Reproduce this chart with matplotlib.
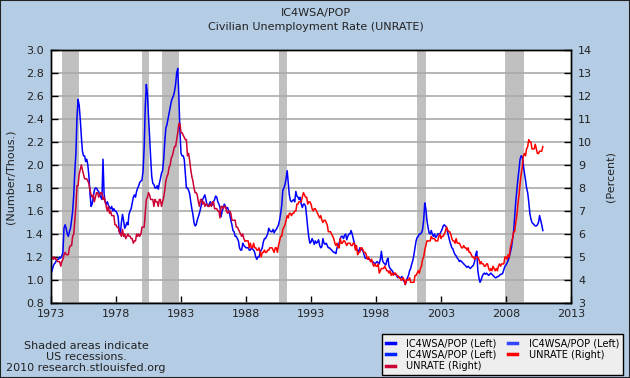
import numpy as np
import matplotlib
matplotlib.use("Agg")
import matplotlib.pyplot as plt
from matplotlib.lines import Line2D

# monthly values, Jan 1973 .. Nov 2010
ic4wsa_pop = [
    1.06, 1.08, 1.12, 1.14, 1.15, 1.17, 1.18, 1.18, 1.20, 1.19, 1.21, 1.24,  # 1973
    1.45, 1.48, 1.45, 1.40, 1.38, 1.42, 1.45, 1.52, 1.60, 1.74, 1.95, 2.10,  # 1974
    2.42, 2.57, 2.52, 2.40, 2.25, 2.12, 2.08, 2.08, 2.03, 2.05, 2.00, 1.90,  # 1975
    1.75, 1.64, 1.66, 1.72, 1.78, 1.80, 1.80, 1.78, 1.77, 1.74, 1.72, 1.70,  # 1976
    2.05, 1.75, 1.68, 1.66, 1.68, 1.65, 1.63, 1.62, 1.64, 1.60, 1.62, 1.60,  # 1977
    1.60, 1.58, 1.55, 1.42, 1.40, 1.50, 1.57, 1.52, 1.45, 1.47, 1.50, 1.48,  # 1978
    1.57, 1.60, 1.62, 1.67, 1.72, 1.74, 1.72, 1.77, 1.80, 1.82, 1.85, 1.86,  # 1979
    1.87, 1.95, 2.15, 2.50, 2.70, 2.62, 2.42, 2.25, 2.06, 1.90, 1.84, 1.83,  # 1980
    1.80, 1.80, 1.82, 1.79, 1.84, 1.88, 1.93, 1.95, 2.05, 2.20, 2.32, 2.35,  # 1981
    2.40, 2.45, 2.50, 2.55, 2.58, 2.60, 2.64, 2.70, 2.80, 2.84, 2.60, 2.30,  # 1982
    2.10, 2.08, 2.08, 2.05, 1.92, 1.80, 1.80, 1.78, 1.75, 1.68, 1.62, 1.57,  # 1983
    1.50, 1.47, 1.48, 1.52, 1.55, 1.58, 1.62, 1.66, 1.70, 1.72, 1.74, 1.70,  # 1984
    1.65, 1.64, 1.66, 1.68, 1.66, 1.65, 1.68, 1.70, 1.73, 1.72, 1.68, 1.66,  # 1985
    1.63, 1.55, 1.60, 1.63, 1.66, 1.64, 1.62, 1.63, 1.60, 1.57, 1.52, 1.48,  # 1986
    1.43, 1.42, 1.38, 1.38, 1.36, 1.34, 1.28, 1.26, 1.26, 1.32, 1.30, 1.29,  # 1987
    1.28, 1.28, 1.28, 1.26, 1.26, 1.28, 1.27, 1.26, 1.24, 1.20, 1.18, 1.20,  # 1988
    1.20, 1.24, 1.26, 1.28, 1.33, 1.36, 1.36, 1.38, 1.40, 1.45, 1.43, 1.42,  # 1989
    1.42, 1.44, 1.41, 1.43, 1.44, 1.46, 1.48, 1.52, 1.58, 1.65, 1.78, 1.80,  # 1990
    1.83, 1.88, 1.95, 1.85, 1.74, 1.69, 1.68, 1.69, 1.70, 1.68, 1.77, 1.73,  # 1991
    1.72, 1.70, 1.72, 1.66, 1.63, 1.66, 1.66, 1.64, 1.55, 1.45, 1.37, 1.32,  # 1992
    1.33, 1.36, 1.34, 1.31, 1.34, 1.32, 1.33, 1.35, 1.30, 1.28, 1.29, 1.36,  # 1993
    1.32, 1.31, 1.32, 1.30, 1.28, 1.28, 1.27, 1.26, 1.25, 1.24, 1.24, 1.23,  # 1994
    1.28, 1.30, 1.32, 1.36, 1.38, 1.38, 1.36, 1.39, 1.40, 1.35, 1.38, 1.40,  # 1995
    1.40, 1.43, 1.40, 1.36, 1.32, 1.28, 1.27, 1.26, 1.24, 1.28, 1.26, 1.27,  # 1996
    1.25, 1.22, 1.19, 1.19, 1.19, 1.18, 1.18, 1.17, 1.16, 1.16, 1.15, 1.14,  # 1997
    1.15, 1.16, 1.15, 1.14, 1.18, 1.25, 1.17, 1.15, 1.14, 1.13, 1.17, 1.19,  # 1998
    1.12, 1.10, 1.09, 1.08, 1.06, 1.05, 1.05, 1.04, 1.02, 1.03, 1.02, 1.02,  # 1999
    1.03, 1.00, 0.99, 0.96, 0.99, 1.02, 1.04, 1.08, 1.10, 1.14, 1.17, 1.22,  # 2000
    1.28, 1.34, 1.37, 1.38, 1.40, 1.40, 1.41, 1.44, 1.52, 1.67, 1.62, 1.52,  # 2001
    1.46, 1.41, 1.40, 1.43, 1.40, 1.38, 1.40, 1.37, 1.38, 1.40, 1.40, 1.40,  # 2002
    1.42, 1.44, 1.47, 1.48, 1.47, 1.46, 1.42, 1.38, 1.34, 1.31, 1.28, 1.27,  # 2003
    1.24, 1.22, 1.21, 1.19, 1.18, 1.16, 1.17, 1.16, 1.15, 1.14, 1.13, 1.12,  # 2004
    1.11, 1.12, 1.11, 1.10, 1.11, 1.12, 1.13, 1.16, 1.22, 1.25, 1.08, 1.02,  # 2005
    0.98, 1.00, 1.03, 1.05, 1.06, 1.05, 1.06, 1.05, 1.04, 1.05, 1.06, 1.05,  # 2006
    1.04, 1.03, 1.02, 1.02, 1.03, 1.03, 1.04, 1.05, 1.05, 1.06, 1.09, 1.12,  # 2007
    1.13, 1.15, 1.17, 1.20, 1.24, 1.28, 1.35, 1.42, 1.55, 1.68, 1.78, 1.88,  # 2008
    1.96, 2.05, 2.08, 2.07, 2.00, 1.93, 1.87, 1.80, 1.76, 1.68, 1.58, 1.53,  # 2009
    1.50, 1.49, 1.48, 1.47, 1.47, 1.48, 1.50, 1.56, 1.52, 1.48, 1.43,        # 2010
]

unrate = [
    4.9, 5.0, 4.9, 5.0, 4.9, 4.9, 4.8, 4.8, 4.8, 4.6, 4.8, 4.9,  # 1973
    5.1, 5.2, 5.1, 5.1, 5.1, 5.4, 5.5, 5.5, 5.9, 6.0, 6.6, 7.2,  # 1974
    8.1, 8.1, 8.6, 8.8, 9.0, 8.8, 8.6, 8.4, 8.4, 8.4, 8.3, 8.2,  # 1975
    7.9, 7.7, 7.6, 7.7, 7.4, 7.6, 7.8, 7.8, 7.6, 7.7, 7.8, 7.8,  # 1976
    7.5, 7.6, 7.4, 7.2, 7.0, 7.2, 6.9, 7.0, 6.8, 6.8, 6.8, 6.4,  # 1977
    6.4, 6.3, 6.3, 6.1, 6.0, 5.9, 6.2, 5.9, 6.0, 5.8, 5.9, 6.0,  # 1978
    5.9, 5.9, 5.8, 5.8, 5.6, 5.7, 5.7, 6.0, 5.9, 6.0, 5.9, 6.0,  # 1979
    6.3, 6.3, 6.3, 6.9, 7.5, 7.6, 7.8, 7.7, 7.5, 7.5, 7.5, 7.2,  # 1980
    7.5, 7.4, 7.4, 7.2, 7.5, 7.5, 7.2, 7.4, 7.6, 7.9, 8.3, 8.5,  # 1981
    8.6, 8.9, 9.0, 9.3, 9.4, 9.6, 9.8, 9.8, 10.1, 10.4, 10.8, 10.8,  # 1982
    10.4, 10.4, 10.3, 10.2, 10.1, 10.1, 9.4, 9.5, 9.2, 8.8, 8.5, 8.3,  # 1983
    8.0, 7.8, 7.8, 7.7, 7.4, 7.2, 7.5, 7.5, 7.3, 7.4, 7.2, 7.3,  # 1984
    7.3, 7.2, 7.2, 7.3, 7.2, 7.4, 7.4, 7.1, 7.1, 7.1, 7.0, 7.0,  # 1985
    6.7, 7.2, 7.2, 7.1, 7.2, 7.2, 7.0, 6.9, 7.0, 7.0, 6.9, 6.6,  # 1986
    6.6, 6.6, 6.6, 6.3, 6.3, 6.2, 6.1, 6.0, 5.9, 6.0, 5.8, 5.7,  # 1987
    5.7, 5.7, 5.7, 5.4, 5.6, 5.4, 5.4, 5.6, 5.4, 5.4, 5.3, 5.3,  # 1988
    5.4, 5.2, 5.0, 5.2, 5.2, 5.3, 5.2, 5.2, 5.3, 5.3, 5.4, 5.4,  # 1989
    5.4, 5.3, 5.2, 5.4, 5.4, 5.2, 5.5, 5.7, 5.9, 5.9, 6.2, 6.3,  # 1990
    6.4, 6.6, 6.8, 6.7, 6.9, 6.9, 6.8, 6.9, 6.9, 7.0, 7.0, 7.3,  # 1991
    7.3, 7.4, 7.4, 7.4, 7.6, 7.8, 7.7, 7.6, 7.6, 7.3, 7.4, 7.4,  # 1992
    7.3, 7.1, 7.0, 7.1, 7.1, 7.0, 6.9, 6.8, 6.7, 6.8, 6.6, 6.5,  # 1993
    6.6, 6.6, 6.5, 6.4, 6.1, 6.1, 6.1, 6.0, 5.9, 5.8, 5.6, 5.5,  # 1994
    5.6, 5.4, 5.4, 5.8, 5.6, 5.6, 5.7, 5.7, 5.6, 5.5, 5.6, 5.6,  # 1995
    5.6, 5.5, 5.5, 5.6, 5.6, 5.3, 5.5, 5.1, 5.2, 5.2, 5.4, 5.4,  # 1996
    5.3, 5.2, 5.2, 5.1, 4.9, 5.0, 4.9, 4.8, 4.9, 4.7, 4.6, 4.7,  # 1997
    4.6, 4.6, 4.7, 4.3, 4.4, 4.5, 4.5, 4.5, 4.6, 4.5, 4.4, 4.4,  # 1998
    4.3, 4.4, 4.2, 4.3, 4.2, 4.3, 4.3, 4.2, 4.2, 4.1, 4.1, 4.0,  # 1999
    4.0, 4.1, 4.0, 3.8, 4.0, 4.0, 4.0, 4.1, 3.9, 3.9, 3.9, 3.9,  # 2000
    4.2, 4.2, 4.3, 4.4, 4.3, 4.5, 4.6, 4.9, 5.0, 5.3, 5.5, 5.7,  # 2001
    5.7, 5.7, 5.7, 5.9, 5.8, 5.8, 5.8, 5.7, 5.7, 5.7, 5.9, 6.0,  # 2002
    5.8, 5.9, 5.9, 6.0, 6.1, 6.3, 6.2, 6.1, 6.1, 6.0, 5.8, 5.7,  # 2003
    5.7, 5.6, 5.8, 5.6, 5.6, 5.6, 5.5, 5.4, 5.4, 5.5, 5.4, 5.4,  # 2004
    5.3, 5.4, 5.2, 5.2, 5.1, 5.0, 5.0, 4.9, 5.0, 5.0, 5.0, 4.9,  # 2005
    4.7, 4.8, 4.7, 4.7, 4.6, 4.6, 4.7, 4.7, 4.5, 4.4, 4.5, 4.4,  # 2006
    4.6, 4.5, 4.4, 4.5, 4.4, 4.6, 4.7, 4.6, 4.7, 4.7, 4.7, 5.0,  # 2007
    5.0, 4.9, 5.1, 5.0, 5.4, 5.6, 5.8, 6.1, 6.1, 6.5, 6.8, 7.3,  # 2008
    7.7, 8.2, 8.6, 8.9, 9.4, 9.5, 9.4, 9.7, 9.8, 10.1, 10.0, 10.0,  # 2009
    9.7, 9.7, 9.7, 9.9, 9.7, 9.5, 9.5, 9.6, 9.6, 9.6, 9.8,       # 2010
]

start_year = 1973
# NBER recessions (decimal years)
recessions = [(1973.83, 1975.17), (1980.0, 1980.5), (1981.5, 1982.83),
              (1990.5, 1991.17), (2001.17, 2001.83), (2007.92, 2009.42)]

years = start_year + np.arange(len(ic4wsa_pop)) / 12.0
years_u = start_year + np.arange(len(unrate)) / 12.0
unrate = np.array(unrate)

bg = '#b4cce4'
fig = plt.figure(figsize=(6.3, 3.78), dpi=100, facecolor=bg)
ax1 = fig.add_axes([51/630, 1 - 303/378, 520/630, 253/378])
ax2 = ax1.twinx()
ax1.set_facecolor('white')
ax2.patch.set_visible(False)

for a, b in recessions:
    ax1.axvspan(a, b, color='#c0c0c0', lw=0, zorder=0.2)

ax1.yaxis.grid(True, color='#aaaaaa', lw=1.2)
ax1.set_axisbelow(True)

ax1.plot(years, ic4wsa_pop, color='#0000ff', lw=1.1, zorder=3)
early = years_u < 1988.0
ax2.plot(years_u[early], unrate[early], color='#cc0033', lw=1.1)
ax2.plot(years_u[years_u >= 1987.9], unrate[years_u >= 1987.9], color='#ff0000', lw=1.1)

ax1.set_xlim(1973, 2013)
ax1.set_ylim(0.8, 3.0)
ax2.set_ylim(3, 14)
ax1.set_xticks(range(1973, 2014, 5))
ax1.set_yticks(np.arange(0.8, 3.01, 0.2))
ax1.set_yticklabels(['%.1f' % v for v in np.arange(0.8, 3.01, 0.2)])
ax2.set_yticks(range(3, 15))

for a in (ax1, ax2):
    a.tick_params(direction='in', length=5, width=1, colors='black',
                  labelsize=8, labelcolor='#222222')
    for s in a.spines.values():
        s.set_color('black')
        s.set_linewidth(1)
ax1.tick_params(axis='y', pad=5)
ax2.tick_params(axis='y', pad=5)
ax1.tick_params(axis='x', pad=4)

ax1.set_ylabel('(Number/Thous.)', fontsize=8, color='#222222', labelpad=8)
ax2.set_ylabel('(Percent)', fontsize=8, color='#222222', labelpad=10)

fig.text(316/630, 1 - 13/378, 'IC4WSA/POP', ha='center', va='center',
         fontsize=8, color='#222222')
fig.text(316/630, 1 - 27/378, 'Civilian Unemployment Rate (UNRATE)',
         ha='center', va='center', fontsize=8, color='#222222')

fig.text(86/630, 1 - 357/378,
         'Shaded areas indicate\nUS recessions.\n2010 research.stlouisfed.org',
         ha='center', va='center', fontsize=8, color='#222222', linespacing=1.15)

handles = [
    Line2D([], [], color='#0000ff', lw=2.5),
    Line2D([], [], color='#0022ff', lw=2.5),
    Line2D([], [], color='#cc0033', lw=2.5),
    Line2D([], [], color='#3344ff', lw=2.5),
    Line2D([], [], color='#ff0000', lw=2.5),
]
labels = ['IC4WSA/POP (Left)', 'IC4WSA/POP (Left)', 'UNRATE (Right)',
          'IC4WSA/POP (Left)', 'UNRATE (Right)']
leg = fig.legend(handles, labels, ncol=2, loc='lower right',
                 bbox_to_anchor=(623/630, 1 - 375/378), fontsize=7,
                 frameon=True, fancybox=False, framealpha=1,
                 facecolor='#eeeeee', edgecolor='black', handlelength=0.9,
                 handletextpad=1.2, columnspacing=1.2, labelspacing=0.15,
                 borderpad=0.4, borderaxespad=0)
leg.get_frame().set_linewidth(1)

# outer frame
fig.patches.append(plt.Rectangle((0, 0), 1, 1, transform=fig.transFigure,
                                 fill=False, edgecolor='#222222', lw=1.5))

fig.savefig('out.png', dpi=100, facecolor=bg)
